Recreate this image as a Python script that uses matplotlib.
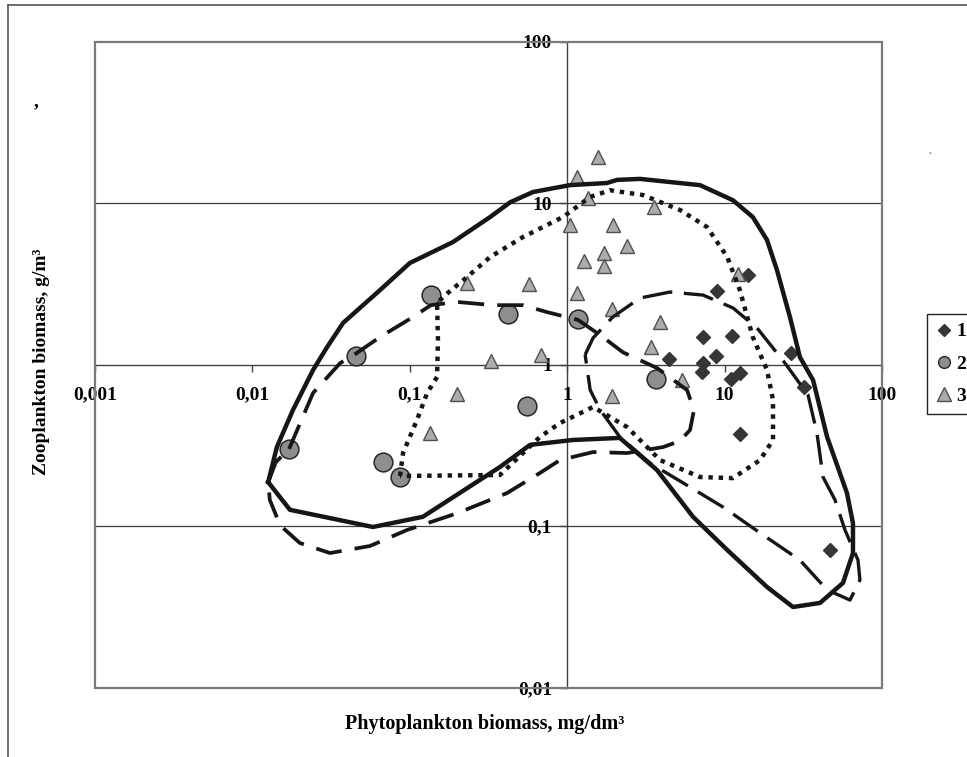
import matplotlib
matplotlib.use("Agg")
import matplotlib.pyplot as plt
from matplotlib.lines import Line2D
from matplotlib.patches import Rectangle

plt.rcParams['font.family'] = ['Liberation Serif', 'DejaVu Serif']
plt.rcParams['font.weight'] = 'bold'

# series 1 (diamonds)
s1_x = [14.1, 8.95, 7.30, 11.1, 26.4, 8.81, 4.43, 7.30, 7.19, 12.5, 11.0, 31.9, 12.5, 46.8]
s1_y = [3.58, 2.85, 1.48, 1.50, 1.18, 1.13, 1.08, 1.02, 0.90, 0.885, 0.813, 0.726, 0.372, 0.071]

# series 2 (circles)
s2_x = [0.136, 0.421, 1.17, 0.0455, 0.556, 0.0171, 0.0676, 0.0867, 3.66]
s2_y = [2.69, 2.06, 1.91, 1.13, 0.553, 0.300, 0.249, 0.201, 0.813]

# series 3 (triangles)
s3_x = [1.57, 1.15, 1.36, 3.56, 1.04, 1.95, 2.40, 1.71, 1.71, 1.28, 0.571, 1.15,
        0.231, 1.93, 3.89, 3.40, 1.93, 5.36, 12.2, 0.328, 0.683, 0.200, 0.134]
s3_y = [19.3, 14.5, 10.7, 9.45, 7.3, 7.3, 5.42, 4.90, 4.07, 4.38, 3.15, 2.77,
        3.20, 2.21, 1.83, 1.28, 0.638, 0.80, 3.63, 1.05, 1.15, 0.656, 0.377]

# envelope around all points (solid)
all_x = [0.0126, 0.0143, 0.0181, 0.0243, 0.0298, 0.0377, 0.0647, 0.100, 0.188, 0.324, 0.434,
         0.607, 1.04, 1.79, 2.07, 2.90, 6.98, 11.3, 15.1, 18.6, 21.5, 26.0, 30.1, 36.5, 44.8,
         59.9, 65.4, 65.4, 56.5, 40.4, 27.2, 18.6, 10.4, 6.30, 3.72, 2.16, 1.09, 0.581, 0.374,
         0.121, 0.0583, 0.0173, 0.0126]
all_y = [0.187, 0.308, 0.523, 0.925, 1.28, 1.81, 2.89, 4.25, 5.73, 8.19, 10.1,
         11.7, 12.9, 13.3, 13.9, 14.1, 12.9, 10.4, 8.19, 5.90, 3.85, 1.97, 1.11, 0.80, 0.356,
         0.160, 0.104, 0.068, 0.0444, 0.0334, 0.0315, 0.0419, 0.071, 0.114, 0.222, 0.351, 0.341,
         0.318, 0.232, 0.114, 0.0986, 0.126, 0.187]

# envelope of series 3 (dotted)
e3_x = [0.0867, 0.0906, 0.111, 0.129, 0.149, 0.151, 0.149, 0.168, 0.231, 0.324, 0.524, 0.940,
        1.40, 1.87, 3.03, 5.21, 7.73, 10.4, 12.5, 15.1, 18.6, 20.3, 20.3, 16.8, 11.3, 6.98,
        3.89, 2.40, 1.46, 0.900, 0.671, 0.374, 0.0867]
e3_y = [0.204, 0.283, 0.453, 0.667, 0.837, 1.42, 2.40, 2.69, 3.48, 4.63, 6.16, 8.19,
        10.9, 12.0, 11.2, 9.05, 7.10, 4.63, 2.89, 1.48, 0.925, 0.603, 0.341, 0.256, 0.198, 0.201,
        0.256, 0.410, 0.546, 0.434, 0.356, 0.207, 0.204]

# envelope of series 2 (dashed)
e2_x = [0.0171, 0.0243, 0.0361, 0.0462, 0.0647, 0.105, 0.136, 0.200, 0.338, 0.524, 0.745, 1.17,
        1.62, 2.26, 3.72, 5.77, 6.39, 6.03, 5.21, 4.06, 2.40, 1.46, 0.900, 0.671, 0.415, 0.200,
        0.0959, 0.0558, 0.0311, 0.0200, 0.0150, 0.0129, 0.0126, 0.0141, 0.0171]
e2_y = [0.300, 0.667, 1.02, 1.18, 1.48, 1.97, 2.33, 2.44, 2.33, 2.33, 2.11, 1.89,
        1.52, 1.19, 0.951, 0.695, 0.523, 0.393, 0.336, 0.308, 0.283, 0.287, 0.256, 0.213, 0.160,
        0.120, 0.0944, 0.0752, 0.068, 0.0785, 0.101, 0.145, 0.187, 0.249, 0.300]

# envelope of series 1 (long dashes)
e1_x = [1.30, 1.46, 1.95, 2.90, 4.50, 7.30, 11.3, 16.1, 24.2, 33.9, 38.6, 42.2, 50.3, 58.2,
        70.4, 72.4, 62.6, 44.8, 30.1, 16.8, 9.77, 5.44, 3.36, 2.16, 1.62, 1.40, 1.30]
e1_y = [1.15, 1.46, 1.97, 2.58, 2.81, 2.69, 2.24, 1.68, 1.02, 0.647, 0.377, 0.201, 0.145, 0.0944,
        0.0615, 0.0463, 0.0348, 0.0402, 0.0615, 0.0906, 0.131, 0.185, 0.245, 0.356, 0.523, 0.695, 1.15]

x_ticks = [0.001, 0.01, 0.1, 1, 10, 100]
x_labels = ['0,001', '0,01', '0,1', '1', '10', '100']
y_ticks = [0.01, 0.1, 1, 10, 100]
y_labels = ['0,01', '0,1', '1', '10', '100']
legend_labels = ['1', '2', '3']

fig = plt.figure(figsize=(9.67, 7.57), dpi=100)
ax = fig.add_axes([95 / 967, 1 - 687.5 / 757, 787 / 967, 646 / 757])
ax.set_xscale('log')
ax.set_yscale('log')
ax.set_xlim(0.001, 100)
ax.set_ylim(0.01, 100)

# horizontal grid only
for g in [0.1, 10]:
    ax.axhline(g, color='#3c3c3c', lw=0.9, zorder=1)

ax.plot(s1_x, s1_y, 'D', ms=7.2, mfc='#363636', mec='#363636', zorder=3)
ax.plot(s2_x, s2_y, 'o', ms=13.5, mfc='#8e8e8e', mec='#262626', mew=1.1, zorder=3)
ax.plot(s3_x, s3_y, '^', ms=9.5, mfc='#acacac', mec='#505050', mew=1.0, zorder=3)

ax.plot(all_x, all_y, '-', color='#161616', lw=3.2, zorder=4, solid_joinstyle='round')
ax.plot(e3_x, e3_y, color='#161616', lw=3.2, linestyle=(0, (1, 1.3)), zorder=4)
ax.plot(e2_x, e2_y, color='#161616', lw=2.7, linestyle=(0, (7, 3.5)), zorder=4)
ax.plot(e1_x, e1_y, color='#161616', lw=2.4, linestyle=(0, (9, 3.5)), zorder=4)

# axes crossing at (1, 1)
ax.spines['left'].set_position(('data', 1))
ax.spines['bottom'].set_position(('data', 1))
for s in ['left', 'bottom']:
    ax.spines[s].set_color('#404040')
    ax.spines[s].set_linewidth(1.0)
    ax.spines[s].set_zorder(1)
ax.spines['top'].set_visible(False)
ax.spines['right'].set_visible(False)
ax.add_patch(Rectangle((0, 0), 1, 1, transform=ax.transAxes, fill=False,
                       edgecolor='#7a7a7a', lw=1.6, clip_on=False, zorder=2))

ax.minorticks_off()
ax.set_xticks(x_ticks, x_labels)
ax.set_yticks(y_ticks, y_labels)
ax.tick_params(axis='x', direction='out', length=5, width=1, color='#404040',
               pad=11, labelsize=14)
ax.tick_params(axis='y', direction='out', length=5, width=1, color='#404040',
               pad=6, labelsize=14)
for t in ax.get_xticklabels() + ax.get_yticklabels():
    t.set_fontweight('bold')

fig.text(485 / 967, 1 - 724 / 757, 'Phytoplankton biomass, mg/dm\u00b3',
         ha='center', va='center', fontsize=14.5, fontweight='bold')
fig.text(42 / 967, 1 - 362 / 757, 'Zooplankton biomass, g/m\u00b3',
         ha='center', va='center', rotation=90, fontsize=14, fontweight='bold')

handles = [
    Line2D([], [], ls='', marker='D', ms=6.5, mfc='#363636', mec='#363636'),
    Line2D([], [], ls='', marker='o', ms=8.5, mfc='#8e8e8e', mec='#262626'),
    Line2D([], [], ls='', marker='^', ms=10, mfc='#acacac', mec='#505050'),
]
leg = fig.legend(handles, legend_labels, loc='upper left',
                 bbox_to_anchor=(927 / 967, 1 - 314 / 757), bbox_transform=fig.transFigure,
                 borderaxespad=0, fancybox=False, edgecolor='#222222', framealpha=1,
                 labelspacing=0.75, handlelength=0.8, handletextpad=0.25,
                 borderpad=0.45, prop={'weight': 'bold', 'size': 14})
leg.get_frame().set_linewidth(1.0)

# outer frame of the picture and small stray marks
fig.add_artist(Line2D([8 / 967, 8 / 967], [0, 1 - 5 / 757], color='#555555', lw=1.2))
fig.add_artist(Line2D([8 / 967, 1], [1 - 5 / 757, 1 - 5 / 757], color='#555555', lw=1.2))
fig.text(36 / 967, 1 - 112 / 757, '\u2019', ha='center', va='center', fontsize=14)
fig.text(930 / 967, 1 - 152 / 757, '.', ha='center', va='center', fontsize=8, color='#777777')

fig.savefig('out.png', dpi=100)
